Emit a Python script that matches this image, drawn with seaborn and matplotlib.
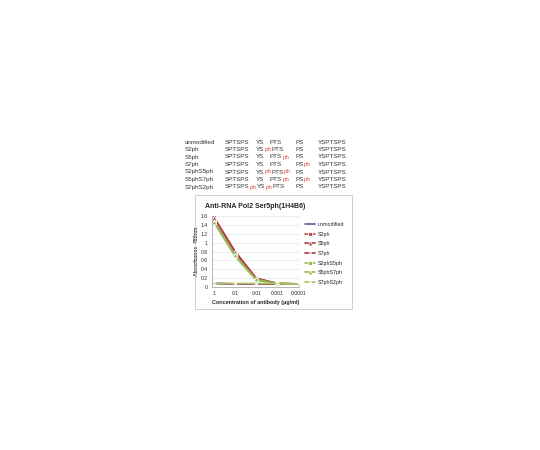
import matplotlib
matplotlib.use("Agg")
import matplotlib.pyplot as plt
import seaborn as sns
import pandas as pd
from matplotlib.patches import Rectangle

# peptide table
peptides = ["unmodified", "S2ph", "S5ph", "S7ph", "S2phS5ph", "S5phS7ph", "S7phS2ph"]
# which of the 4 gaps carry "ph" (after SPTSPS, after YS, after PTS, after PS)
ph_sites = [
    [0, 0, 0, 0],
    [0, 1, 0, 0],
    [0, 0, 1, 0],
    [0, 0, 0, 1],
    [0, 1, 1, 0],
    [0, 0, 1, 1],
    [1, 1, 0, 0],
]
seq_parts = ["SPTSPS", "YS", "PTS", "PS", "YSPTSPS"]

# ELISA data
concentrations = ["1", "0.1", "0.01", "0.001", "0.0001"]
unmodified = [0.08, 0.07, 0.07, 0.07, 0.07]
s2ph = [1.57, 0.80, 0.20, 0.08, 0.07]
s5ph = [1.55, 0.78, 0.19, 0.08, 0.07]
s7ph = [0.08, 0.07, 0.07, 0.07, 0.07]
s2phs5ph = [1.45, 0.69, 0.15, 0.08, 0.07]
s5phs7ph = [1.47, 0.71, 0.17, 0.08, 0.07]
s7phs2ph = [0.08, 0.08, 0.08, 0.08, 0.07]

series = [unmodified, s2ph, s5ph, s7ph, s2phs5ph, s5phs7ph, s7phs2ph]
rows = []
for name, vals in zip(peptides, series):
    for i, v in enumerate(vals):
        rows.append({"peptide": name, "pos": i, "abs": v})
df = pd.DataFrame(rows)

palette = {"unmodified": "#4f6290", "S2ph": "#c0504d", "S5ph": "#b03a48",
           "S7ph": "#a8313d", "S2phS5ph": "#9bbb59", "S5phS7ph": "#8fb84a",
           "S7phS2ph": "#a9c46a"}
markers = {"unmodified": None, "S2ph": "s", "S5ph": "^", "S7ph": "x",
           "S2phS5ph": "s", "S5phS7ph": "^", "S7phS2ph": "x"}

sns.set_theme(style="white")
plt.rcParams["font.family"] = ["Liberation Sans", "DejaVu Sans"]

fig = plt.figure(figsize=(5.4, 4.5), dpi=100)
renderer = fig.canvas.get_renderer()

# table text: parts sit in columns, a "ph" pushes the next part to the right
col_x = [225, 256, 270, 295, 318]
row_y = [142, 149.5, 157, 164.5, 172, 179.5, 187]
fs = 4.5


def put(x, y, s, color):
    t = fig.text(x / 540, 1 - y / 450, s, fontsize=fs, va="center", color=color)
    return x + t.get_window_extent(renderer).width


for name, sites, y in zip(peptides, ph_sites, row_y):
    put(185, y, name, "#333333")
    cursor = 0
    for i, part in enumerate(seq_parts):
        cursor = put(max(col_x[i], cursor), y, part, "#333333")
        if i < 4 and sites[i]:
            cursor = put(cursor + 0.3, y, "ph", "#e05050")

# chart border
fig.patches.append(Rectangle((195 / 540, 1 - 309 / 450), 157 / 540, 114 / 450,
                             transform=fig.transFigure, fill=False,
                             edgecolor="#c8c8c8", linewidth=0.6))

ax = fig.add_axes([212 / 540, 1 - 287 / 450, 87 / 540, 71 / 450])
for name in peptides:
    sns.lineplot(data=df[df["peptide"] == name], x="pos", y="abs",
                 color=palette[name], marker=markers[name], markersize=3.4,
                 markeredgewidth=0.6, linewidth=1.2, label=name, ax=ax)
ax.set_xlim(-0.1, 4.02)
ax.set_ylim(0, 1.6)
ax.set_yticks([0, 0.2, 0.4, 0.6, 0.8, 1.0, 1.2, 1.4, 1.6])
ax.set_yticklabels(["0", "0.2", "0.4", "0.6", "0.8", "1", "1.2", "1.4", "1.6"])
ax.set_xticks(range(5))
ax.set_xticklabels(concentrations)
ax.tick_params(labelsize=3.7, length=0, pad=3)
ax.yaxis.grid(True, color="#dddddd", linewidth=0.4)
for side in ["top", "right"]:
    ax.spines[side].set_visible(False)
for side in ["left", "bottom"]:
    ax.spines[side].set_color("#999999")
    ax.spines[side].set_linewidth(0.5)

ax.set_xlabel("Concentration of antibody (\u00b5g/ml)", fontsize=3.9,
              fontweight="bold", labelpad=2.5)
ax.set_ylabel("Absorbance  450nm", fontsize=3.7, fontweight="bold", labelpad=1.5)
ax.set_title("Anti-RNA Pol2 Ser5ph(1H4B6)", fontsize=5, fontweight="bold",
             pad=6)

handles, labels = ax.get_legend_handles_labels()
ax.legend(handles, labels, loc="upper left", bbox_to_anchor=(305 / 540, 1 - 222 / 450),
          bbox_transform=fig.transFigure, frameon=False, fontsize=3.9,
          handlelength=1.9, labelspacing=0.86, handletextpad=0.4,
          borderaxespad=0, borderpad=0)

fig.savefig("out.png", dpi=100, facecolor="white")
